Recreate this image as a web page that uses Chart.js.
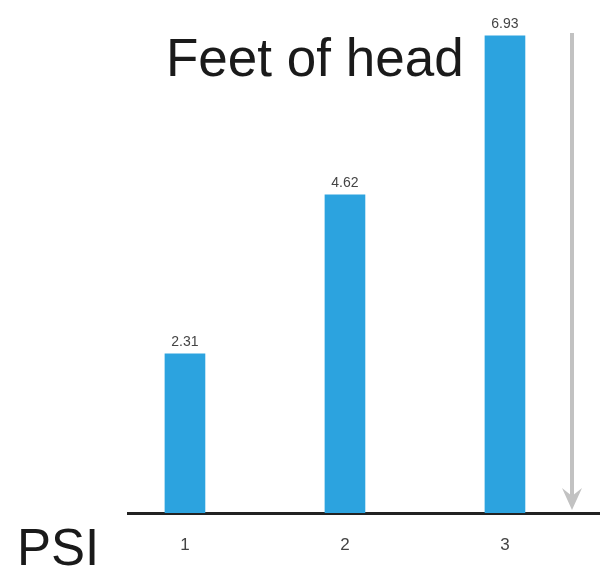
<!DOCTYPE html>
<html><head><meta charset="utf-8">
<script src="https://cdn.jsdelivr.net/npm/chart.js@4"></script>
<style>html,body{margin:0;padding:0;background:#fff}#w{width:600px;height:575px}</style>
</head><body><div id="w"><canvas id="c" width="600" height="575"></canvas></div>
<script>
const psiValues = [1, 2, 3];
const tickLabels = ['1', '2', '3'];
const feetOfHead = [2.31, 4.62, 6.93];
const valueLabels = ['2.31', '4.62', '6.93'];
const yTitle = 'Feet of head';
const xTitle = 'PSI';

const annot = {
  id: 'annot',
  afterDatasetsDraw(chart) {
    const ctx = chart.ctx;
    const meta = chart.getDatasetMeta(0);
    ctx.save();
    ctx.fillStyle = '#444';
    ctx.font = '14px "Liberation Sans", Arial, sans-serif';
    ctx.textAlign = 'center';
    ctx.textBaseline = 'bottom';
    meta.data.forEach((b, i) => ctx.fillText(valueLabels[i], b.x, b.y - 5));
    // titles
    ctx.fillStyle = '#1a1a1a';
    ctx.font = '53px "Liberation Sans", Arial, sans-serif';
    ctx.textAlign = 'left';
    ctx.textBaseline = 'alphabetic';
    ctx.fillText(yTitle, 166, 76);
    ctx.font = '51px "Liberation Sans", Arial, sans-serif';
    ctx.fillText(xTitle, 17, 565);
    // arrow
    const ax = 572, y0 = chart.chartArea.top + 2, y1 = chart.chartArea.bottom - 3;
    ctx.strokeStyle = '#c2c2c2';
    ctx.fillStyle = '#c2c2c2';
    ctx.lineWidth = 4;
    ctx.beginPath(); ctx.moveTo(ax, y0); ctx.lineTo(ax, y1 - 14); ctx.stroke();
    ctx.beginPath(); ctx.moveTo(ax - 10, y1 - 22); ctx.lineTo(ax, y1); ctx.lineTo(ax + 10, y1 - 22);
    ctx.lineTo(ax, y1 - 14); ctx.closePath(); ctx.fill();
    ctx.restore();
  }
};

new Chart(document.getElementById('c'), {
  type: 'bar',
  data: {
    datasets: [{
      data: psiValues.map((x, i) => ({ x: x, y: feetOfHead[i] })),
      backgroundColor: '#2CA3DF',
      barThickness: 40
    }]
  },
  options: {
    responsive: false,
    animation: false,
    layout: { padding: { left: 128, right: 0, top: 31, bottom: 0 } },
    plugins: { legend: { display: false }, tooltip: { enabled: false } },
    scales: {
      x: {
        type: 'linear',
        offset: false,
        min: 0.644,
        max: 3.594,
        afterBuildTicks(axis) { axis.ticks = psiValues.map(v => ({ value: v })); },
        afterFit(axis) { axis.height = 62; },
        ticks: {
          callback: (v) => tickLabels[psiValues.indexOf(v)] ?? '',
          color: '#444',
          font: { size: 17, family: '"Liberation Sans", Arial, sans-serif' },
          padding: 22,
          maxRotation: 0
        },
        grid: { display: false, drawTicks: false },
        border: { display: true, color: '#222', width: 3 }
      },
      y: {
        display: false,
        min: 0,
        max: 7
      }
    }
  },
  plugins: [annot]
});
</script>
</body></html>
